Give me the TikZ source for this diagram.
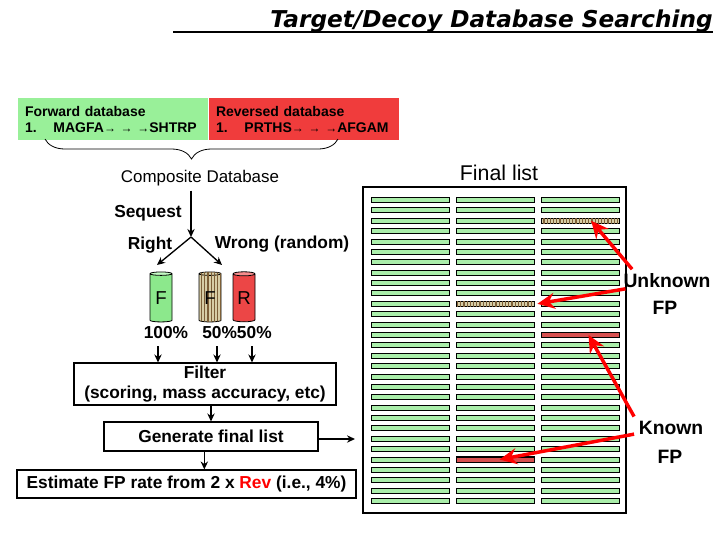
\documentclass[tikz,border=0pt]{standalone}
\usepackage{fontspec}
\setmainfont{Liberation Sans}
\newfontfamily\titlefont{DejaVu Sans}[BoldItalicFont={DejaVu Sans Bold Oblique}]
\usetikzlibrary{shapes.geometric,patterns.meta,decorations.pathreplacing,arrows.meta}
\definecolor{dbgreen}{RGB}{153,240,153}
\definecolor{dbred}{RGB}{240,60,60}
\definecolor{bargreen}{RGB}{170,238,170}
\definecolor{barred}{RGB}{215,80,80}
\definecolor{hatchbg}{RGB}{215,205,165}
\definecolor{hatchfg}{RGB}{125,95,55}
\definecolor{canbody}{RGB}{140,232,140}
\definecolor{cantop}{RGB}{195,250,195}
\definecolor{redbody}{RGB}{236,70,70}
\definecolor{redtop}{RGB}{246,140,140}
\newcommand{\ar}{{\fontsize{9}{10}\selectfont→}}

\begin{document}
\begin{tikzpicture}[x=0.75pt,y=-0.75pt,>={Stealth[length=6pt,width=5.5pt]},
  box/.style={draw,line width=0.8pt,inner sep=0pt,align=center,font=\fontsize{13}{15}\selectfont\bfseries},
  dbbox/.style={minimum width=142.5pt,minimum height=31.5pt,inner xsep=5pt,text width=132pt,align=left,font=\fontsize{10.5}{12}\selectfont\bfseries},
  lbl/.style={font=\fontsize{13}{15}\selectfont\bfseries},
  fplbl/.style={font=\fontsize{14.5}{17}\selectfont\bfseries},
  bar/.style={draw,line width=0.7pt,fill=bargreen},
  special/.style={draw,line width=0.9pt,inner sep=0pt,minimum width=58pt,minimum height=3.9pt},
  hatched/.style={fill=hatchbg,postaction={pattern={Lines[angle=90,distance=2.4pt,line width=1pt]},pattern color=hatchfg}},
  can/.style={cylinder,shape border rotate=90,draw,line width=0.6pt,aspect=0.3,minimum width=16.5pt,minimum height=37.5pt,inner sep=0pt,font=\fontsize{14}{16}\selectfont},
  flow/.style={->,line width=1pt},
  redarrow/.style={-{Stealth[length=13pt,width=12pt]},red,line width=2.6pt}]

\useasboundingbox (0,0) rectangle (720,540);

% title
\node[anchor=base east,inner sep=0pt,font=\titlefont\fontsize{17.4}{20}\selectfont\bfseries\itshape] (title) at (713,27) {Target/Decoy Database Searching};
\draw[line width=1pt] (173,32) -- (title.east |- 0,32);

% databases
\node[dbbox,fill=dbgreen] (fwd) at (113,119) {Forward database\\\mbox{1.\hspace{1.2em}MAGFA\ar\ \ar\ \ar SHTRP}};
\node[dbbox,fill=dbred] (rev) at (304,119) {Reversed database\\\mbox{1.\hspace{1.2em}PRTHS\ar\ \ar\ \ar AFGAM}};
\draw[line width=0.6pt,decorate,decoration={brace,amplitude=15pt}] (338,139) -- (45,139);
\node[font=\fontsize{12.7}{15}\selectfont] (comp) at (200,178) {Composite Database};

% search
\coordinate (split) at (191,237);
\coordinate (rightend) at (157,265);
\coordinate (wrongend) at (222,265);
\draw[flow] (comp.south -| split) -- (split);
\draw[flow] (split) -- (rightend);
\draw[flow] (split) -- (wrongend);
\node[lbl] (seq) at (148,213) {Sequest};
\node[lbl] (right) at (150,245) {Right};
\node[lbl] (wrong) at (282,244) {Wrong (random)};

\node[can,cylinder uses custom fill,cylinder body fill=canbody,cylinder end fill=cantop] (canF) at (161,298) {F};
\node[can,hatched] (canD) at (210,298) {F};
\node[can,cylinder uses custom fill,cylinder body fill=redbody,cylinder end fill=redtop] (canR) at (244,298) {R};
\node[lbl] (p100) at (166,333) {100\%};
\node[lbl] (p50) at (237,333) {50\%50\%};

% filter steps
\node[box,minimum width=196.5pt,minimum height=31.5pt] (filter) at (205,384) {Filter\\(scoring, mass accuracy, etc)};
\node[box,minimum width=160.5pt,minimum height=21.75pt] (gen) at (211,436.5) {Generate final list};
\node[box,minimum width=254.25pt,minimum height=21pt] (est) at (186.5,484) {Estimate FP rate from 2 x \textcolor{red}{Rev} (i.e., 4\%)};
\foreach \x [count=\i] in {158,217,252}
  \coordinate (a\i) at (\x,346);
\foreach \i in {1,2,3}
  \draw[flow] (a\i) -- (a\i |- filter.north);
\draw[flow] (gen.north |- filter.south) -- (gen.north);
\draw[flow] ([xshift=-5pt]gen.south) -- ([xshift=-5pt]gen.south |- est.north);
\coordinate (tolist) at (355,439);
\draw[flow] (gen.east |- tolist) -- (tolist);

% final list
\node[font=\fontsize{16}{18}\selectfont] (fltitle) at (499,173) {Final list};
\node[draw,line width=1.5pt,minimum width=197pt,minimum height=244.5pt,inner sep=0pt] (list) at (494.5,350) {};
\foreach \c in {371.5,456.5,541.5}
  \foreach \r in {0,...,29}
    \draw[bar] (\c,{200+10.38*\r-2.5}) rectangle ++(77.5,5);
\node[special,hatched] (u1) at (580.5,220.8) {};
\node[special,hatched] (u2) at (495.5,303.8) {};
\node[special,fill=barred] (k1) at (580.5,335) {};
\node[special,fill=barred] (k2) at (495.5,459.5) {};

\node[fplbl] (unk) at (667,281) {Unknown};
\node[fplbl] (unkfp) at (665,308) {FP};
\node[fplbl] (kn) at (671,428) {Known};
\node[fplbl] (knfp) at (670,457) {FP};
\draw[redarrow] ([xshift=10pt]unk.north west) -- ([xshift=8pt]u1.center);
\draw[redarrow] ([xshift=5pt,yshift=3pt]unk.south west) -- ([xshift=2pt]u2.east);
\draw[redarrow] (kn.north west) -- ([xshift=6pt]k1.center);
\draw[redarrow] ([yshift=4pt]kn.south west) -- ([xshift=3pt]k2.center);
\end{tikzpicture}
\end{document}
